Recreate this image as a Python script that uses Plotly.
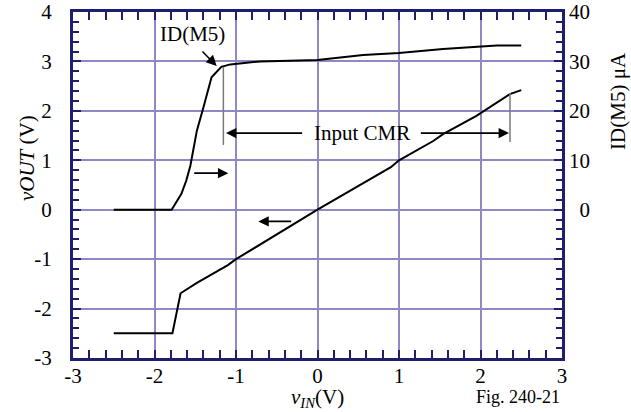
import plotly.graph_objects as go

# ---- data ----
VIN_OUT = [-2.5, -1.78, -1.68, -1.48, -1.1, -1.0, 0.0, 0.9, 1.0, 1.42, 1.54, 1.95, 2.36, 2.5]
VOUT    = [-2.5, -2.5, -1.69, -1.48, -1.12, -1.0, 0.0, 0.86, 1.0, 1.39, 1.53, 1.9, 2.34, 2.42]

VIN_ID = [-2.5, -1.79, -1.67, -1.61, -1.56, -1.48, -1.40, -1.30, -1.18, -1.07, -0.7, 0.0, 0.56, 1.0, 1.54, 2.0, 2.2, 2.5]
ID_M5  = [0.0, 0.0, 3.2, 5.9, 8.9, 16.0, 20.7, 26.8, 28.9, 29.4, 30.0, 30.3, 31.3, 31.7, 32.5, 32.9, 33.2, 33.2]

X_TICKS = [-3, -2, -1, 0, 1, 2, 3]
X_TICK_TEXT = ["-3", "-2", "-1", "0", "1", "2", "3"]
Y_TICKS = [-3, -2, -1, 0, 1, 2, 3, 4]
Y_TICK_TEXT = ["-3", "-2", "-1", "0", "1", "2", "3", "4"]
ID_TICKS = [0, 10, 20, 30, 40]
ID_TICK_TEXT = ["\u20070", "10", "20", "30", "40"]

FONT = "Liberation Serif"
FS = 21
AXIS_COL = "#1E1E6E"
GRID_COL = "#8E88C4"

fig = go.Figure()
fig.add_trace(go.Scatter(x=VIN_ID, y=ID_M5, mode="lines", yaxis="y2",
                         line=dict(color="black", width=2), showlegend=False))
fig.add_trace(go.Scatter(x=VIN_OUT, y=VOUT, mode="lines",
                         line=dict(color="black", width=2), showlegend=False))

axis_common = dict(
    showline=True, linecolor=AXIS_COL, linewidth=3, mirror="allticks",
    showgrid=True, gridcolor=GRID_COL, gridwidth=2,
    ticks="inside", ticklen=8, tickwidth=2, tickcolor=AXIS_COL,
    minor=dict(ticks="inside", ticklen=6, tickwidth=2, tickcolor=AXIS_COL,
               dtick=0.2, showgrid=False),
    zeroline=False, automargin=False,
    tickfont=dict(family=FONT, size=FS, color="black"),
)

fig.update_layout(
    width=631, height=412,
    margin=dict(l=73, r=69, t=12, b=54),
    paper_bgcolor="white", plot_bgcolor="white",
    font=dict(family=FONT, size=FS, color="black"),
    xaxis=dict(range=[-3, 3], tickvals=X_TICKS, ticktext=X_TICK_TEXT,
               ticklabelstandoff=-3, **axis_common),
    yaxis=dict(range=[-3, 4], tickvals=Y_TICKS, ticktext=Y_TICK_TEXT,
               ticklabelstandoff=14, **axis_common),
    yaxis2=dict(range=[-30, 40], overlaying="y", side="right",
                tickvals=ID_TICKS, ticktext=ID_TICK_TEXT, automargin=False,
                showgrid=False, showline=False, zeroline=False, ticks="",
                ticklabelstandoff=6,
                tickfont=dict(family=FONT, size=FS, color="black")),
)

arrow = dict(showarrow=True, arrowhead=2, arrowsize=1.3, arrowwidth=1.6,
             arrowcolor="black", axref="x", ayref="y", xref="x", yref="y", text="")
txt = dict(showarrow=False, xanchor="center", yanchor="middle",
           font=dict(family=FONT, size=FS))

ann = [
    dict(x=-1.237, y=2.91, ax=-1.43, ay=3.23, **arrow),
    dict(x=-1.123, y=1.55, ax=-0.17, ay=1.55, **arrow),
    dict(x=2.35, y=1.55, ax=1.25, ay=1.55, **arrow),
    dict(x=-1.094, y=0.74, ax=-1.531, ay=0.74, **arrow),
    dict(x=-0.726, y=-0.236, ax=-0.304, ay=-0.236, **arrow),
    dict(x=-1.53, y=3.55, xref="x", yref="y", text="ID(M5)", **txt),
    dict(x=0.546, y=1.55, xref="x", yref="y", text="Input CMR", **txt),
    dict(x=-0.094, y=0.578, xref="paper", yref="paper", text="<i>vOUT</i> (V)",
         textangle=-90, **txt),
    dict(x=1.1145, y=0.743, xref="paper", yref="paper", text="ID(M5) \u03bcA",
         textangle=-90, **txt),
    dict(x=0.5, y=-0.115, xref="paper", yref="paper", text="<i>v<sub>IN</sub></i>(V)",
         **txt),
    dict(x=1.0, y=-0.113, xref="paper", yref="paper", text="Fig. 240-21",
         xanchor="right", yanchor="middle", showarrow=False,
         font=dict(family=FONT, size=18)),
]
fig.update_layout(annotations=ann)

fig.add_shape(type="line", x0=-1.155, x1=-1.155, y0=2.89, y1=1.31, xref="x", yref="y",
              line=dict(color="#7A7A7A", width=1.5))
fig.add_shape(type="line", x0=2.362, x1=2.362, y0=2.36, y1=1.37, xref="x", yref="y",
              line=dict(color="#7A7A7A", width=1.5))

fig.write_html("out.html", config={"displayModeBar": False},
               post_script="document.body.style.margin='0px';")
